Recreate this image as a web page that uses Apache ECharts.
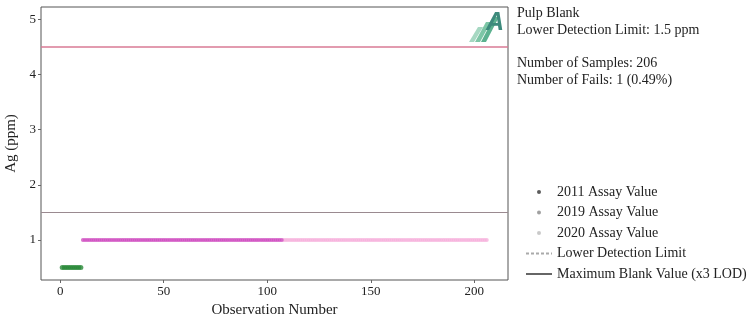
<!DOCTYPE html>
<html>
<head>
<meta charset="utf-8">
<script src="https://cdn.jsdelivr.net/npm/echarts@6/dist/echarts.min.js"></script>
<style>html,body{margin:0;padding:0;background:#fff;}#c{width:753px;height:322px;}</style>
</head>
<body>
<div id="c"></div>
<script>
// ---- data ----
const obs2011 = [1,2,3,4,5,6,7,8,9,10];
const val2011 = [0.5,0.5,0.5,0.5,0.5,0.5,0.5,0.5,0.5,0.5];
const obs2019 = [11,12,13,14,15,16,17,18,19,20,21,22,23,24,25,26,27,28,29,30,31,32,33,34,35,36,37,38,39,40,41,42,43,44,45,46,47,48,49,50,51,52,53,54,55,56,57,58,59,60,61,62,63,64,65,66,67,68,69,70,71,72,73,74,75,76,77,78,79,80,81,82,83,84,85,86,87,88,89,90,91,92,93,94,95,96,97,98,99,100,101,102,103,104,105,106,107];
const val2019 = [1,1,1,1,1,1,1,1,1,1,1,1,1,1,1,1,1,1,1,1,1,1,1,1,1,1,1,1,1,1,1,1,1,1,1,1,1,1,1,1,1,1,1,1,1,1,1,1,1,1,1,1,1,1,1,1,1,1,1,1,1,1,1,1,1,1,1,1,1,1,1,1,1,1,1,1,1,1,1,1,1,1,1,1,1,1,1,1,1,1,1,1,1,1,1,1,1];
const obs2020 = [108,109,110,111,112,113,114,115,116,117,118,119,120,121,122,123,124,125,126,127,128,129,130,131,132,133,134,135,136,137,138,139,140,141,142,143,144,145,146,147,148,149,150,151,152,153,154,155,156,157,158,159,160,161,162,163,164,165,166,167,168,169,170,171,172,173,174,175,176,177,178,179,180,181,182,183,184,185,186,187,188,189,190,191,192,193,194,195,196,197,198,199,200,201,202,203,204,205,206];
const val2020 = [1,1,1,1,1,1,1,1,1,1,1,1,1,1,1,1,1,1,1,1,1,1,1,1,1,1,1,1,1,1,1,1,1,1,1,1,1,1,1,1,1,1,1,1,1,1,1,1,1,1,1,1,1,1,1,1,1,1,1,1,1,1,1,1,1,1,1,1,1,1,1,1,1,1,1,1,1,1,1,1,1,1,1,1,1,1,1,1,1,1,1,1,1,1,1,1,1,1,1];
const lowerDetectionLimit = 1.5;
const maxBlankValue = 4.5;
const xTicks = [0,50,100,150,200];
const yTicks = [1,2,3,4,5];
const seriesNames = ['2011 Assay Value','2019 Assay Value','2020 Assay Value','Lower Detection Limit','Maximum Blank Value (x3 LOD)'];
const infoLines = ['Pulp Blank','Lower Detection Limit: 1.5 ppm','','Number of Samples: 206','Number of Fails: 1 (0.49%)'];

const font = 'Liberation Serif';
const zip = (a,b)=>a.map((v,i)=>[v,b[i]]);
// small dot legend icon inside a full 26x14 box
const dotIcon = 'path://M0,0M26,14M11,7a2,2 0 1,0 4,0a2,2 0 1,0 -4,0Z';

const chart = echarts.init(document.getElementById('c'));
chart.setOption({
  animation:false,
  textStyle:{fontFamily:font},
  grid:{left:41,right:245,top:7,bottom:42,show:true,borderColor:'#555',borderWidth:1,outerBoundsMode:'none',containLabel:false},
  xAxis:{type:'value',min:-9.25,max:216.25,
    name:'Observation Number',nameLocation:'middle',nameGap:23,
    nameTextStyle:{fontFamily:font,fontSize:15,color:'#222'},
    axisLine:{show:false,onZero:false},splitLine:{show:false},
    axisTick:{show:true,length:3,lineStyle:{color:'#666'},customValues:xTicks},
    axisLabel:{fontFamily:font,fontSize:13,color:'#222',margin:5,customValues:xTicks}},
  yAxis:{type:'value',min:0.275,max:5.225,
    name:'Ag (ppm)',nameLocation:'middle',nameGap:17,nameRotate:90,
    nameTextStyle:{fontFamily:font,fontSize:15,color:'#222'},
    axisLine:{show:false,onZero:false},splitLine:{show:false},
    axisTick:{show:true,length:3,lineStyle:{color:'#666'},customValues:yTicks},
    axisLabel:{fontFamily:font,fontSize:13,color:'#222',margin:5,customValues:yTicks}},
  legend:{orient:'vertical',left:520,top:180,itemGap:6.5,itemWidth:26,itemHeight:14,
    textStyle:{fontFamily:font,fontSize:14,color:'#222'},
    data:[
      {name:seriesNames[0],icon:dotIcon,itemStyle:{color:'#333'}},
      {name:seriesNames[1],icon:dotIcon,itemStyle:{color:'#888'}},
      {name:seriesNames[2],icon:dotIcon,itemStyle:{color:'#bbb'}},
      {name:seriesNames[3],itemStyle:{opacity:0}},
      {name:seriesNames[4],itemStyle:{opacity:0}}
    ]},
  graphic:[
    {type:'text',left:517,top:5,style:{text:infoLines.join('\n'),font:'14px "Liberation Serif"',fill:'#222',lineHeight:16.8}},
    {type:'polygon',shape:{points:[[469,42],[478,27],[483,27],[474,42]]},style:{fill:'#a6d8c2'}},
    {type:'polygon',shape:{points:[[475,42],[486,22],[491,22],[480,42]]},style:{fill:'#7dc6a6'}},
    {type:'polygon',shape:{points:[[481,42],[494,17],[499,17],[486,42]]},style:{fill:'#5cb18f'}},
    {type:'text',left:486,top:11,style:{text:'A',font:'italic bold 25px "Liberation Sans"',fill:'#3d8a7c'}}
  ],
  series:[
    {name:seriesNames[0],type:'scatter',symbolSize:5,itemStyle:{color:'#2a8a3a'},data:zip(obs2011,val2011),z:3},
    {name:seriesNames[1],type:'scatter',symbolSize:4,itemStyle:{color:'#cf4fc0'},data:zip(obs2019,val2019),z:3},
    {name:seriesNames[2],type:'scatter',symbolSize:4,itemStyle:{color:'#f6b2dc'},data:zip(obs2020,val2020),z:2},
    {name:seriesNames[3],type:'line',symbol:'none',data:[],lineStyle:{color:'#aaa',width:1,type:[3,2]},itemStyle:{color:'#aaa'},
      markLine:{silent:true,symbol:'none',label:{show:false},lineStyle:{color:'#9a8a90',width:1,type:'solid'},data:[{yAxis:lowerDetectionLimit}]}},
    {name:seriesNames[4],type:'line',symbol:'none',data:[],lineStyle:{color:'#666',width:1},itemStyle:{color:'#666'},
      markLine:{silent:true,symbol:'none',label:{show:false},lineStyle:{color:'#d87a95',width:1.5,type:'solid'},data:[{yAxis:maxBlankValue}]}}
  ]
});
</script>
</body>
</html>
